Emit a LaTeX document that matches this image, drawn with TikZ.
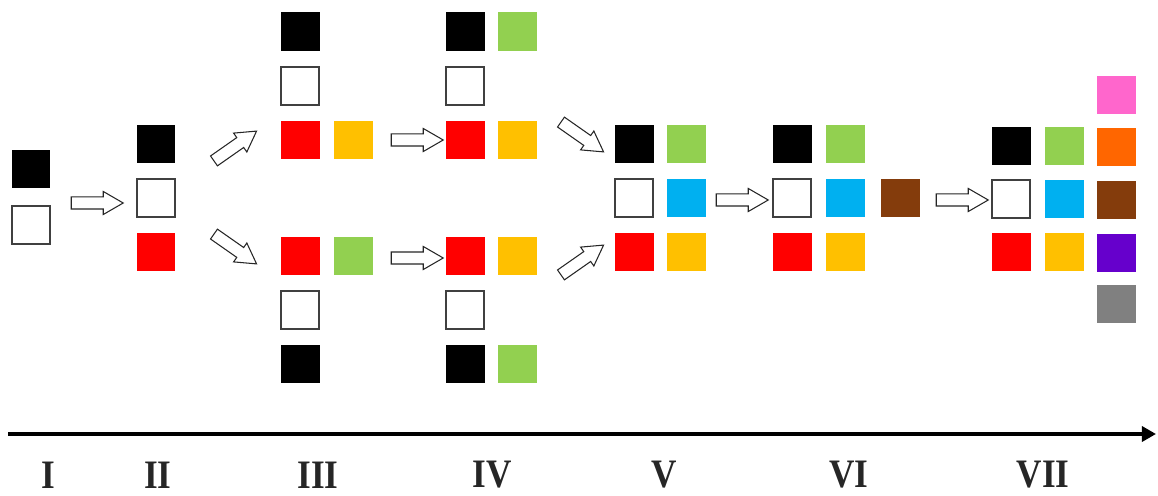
\documentclass[tikz,border=0pt]{standalone}
\usepackage{fontspec}
\setmainfont{Liberation Serif}
\usetikzlibrary{shapes.arrows,arrows.meta}

\definecolor{cred}{HTML}{FF0000}
\definecolor{cyellow}{HTML}{FFC000}
\definecolor{cgreen}{HTML}{92D050}
\definecolor{cblue}{HTML}{00B0F0}
\definecolor{cbrown}{HTML}{843C0C}
\definecolor{cpink}{HTML}{FF66CC}
\definecolor{corange}{HTML}{FF6600}
\definecolor{cpurple}{HTML}{6600CC}
\definecolor{cgray}{HTML}{808080}

\tikzset{
	sq/.style={minimum size=0.78cm, inner sep=0pt, fill=#1},
	emptysq/.style={minimum size=0.76cm, inner sep=0pt, draw=black!75, line width=0.6pt, fill=white},
	blockarrow/.style={single arrow, draw=black!85, fill=white, line width=0.6pt,
		inner sep=0pt, inner ysep=0.11cm, minimum height=1.04cm,
		single arrow head extend=0.11cm, single arrow tip angle=60},
	stage/.style={font=\fontsize{23}{23}\selectfont\bfseries, text=black!85, inner sep=0pt, xscale=0.87}
}

\begin{document}
\begin{tikzpicture}[x=0.02cm,y=-0.02cm]
		\useasboundingbox (0,0) rectangle (1158,496);
		% I
		\node[sq=black] (i1) at (31,169) {};
		\node[emptysq] (i2) at (31,225) {};
		% II
		\node[sq=black] (ii1) at (156,144) {};
		\node[emptysq] (ii2) at (156,198) {};
		\node[sq=cred] (ii3) at (156,252) {};
		% III
		\node[sq=black] (iiia) at (300,32) {};
		\node[emptysq] (iiib) at (300,86) {};
		\node[sq=cred] (iiic) at (300,140) {};
		\node[sq=cyellow] (iiid) at (353,140) {};
		\node[sq=cred] (iiie) at (300,256) {};
		\node[sq=cgreen] (iiif) at (353,256) {};
		\node[emptysq] (iiig) at (300,310) {};
		\node[sq=black] (iiih) at (300,364) {};
		% IV
		\node[sq=black] (iva) at (465,32) {};
		\node[sq=cgreen] (ivb) at (517,32) {};
		\node[emptysq] (ivc) at (465,86) {};
		\node[sq=cred] (ivd) at (465,140) {};
		\node[sq=cyellow] (ive) at (517,140) {};
		\node[sq=cred] (ivf) at (465,256) {};
		\node[sq=cyellow] (ivg) at (517,256) {};
		\node[emptysq] (ivh) at (465,310) {};
		\node[sq=black] (ivi) at (465,364) {};
		\node[sq=cgreen] (ivj) at (517,364) {};
		% V
		\node[sq=black] (va) at (634,144) {};
		\node[sq=cgreen] (vb) at (686,144) {};
		\node[emptysq] (vc) at (634,198) {};
		\node[sq=cblue] (vd) at (686,198) {};
		\node[sq=cred] (ve) at (634,252) {};
		\node[sq=cyellow] (vf) at (686,252) {};
		% VI
		\node[sq=black] (via) at (792,144) {};
		\node[sq=cgreen] (vib) at (845,144) {};
		\node[emptysq] (vic) at (792,198) {};
		\node[sq=cblue] (vid) at (845,198) {};
		\node[sq=cbrown] (vie) at (900,198) {};
		\node[sq=cred] (vif) at (792,252) {};
		\node[sq=cyellow] (vig) at (845,252) {};
		% VII
		\node[sq=black] (viia) at (1011,146) {};
		\node[sq=cgreen] (viib) at (1064,146) {};
		\node[emptysq] (viic) at (1011,199) {};
		\node[sq=cblue] (viid) at (1064,199) {};
		\node[sq=cred] (viie) at (1011,252) {};
		\node[sq=cyellow] (viif) at (1064,252) {};
		\node[sq=cpink] (viig) at (1116,95) {};
		\node[sq=corange] (viih) at (1116,147) {};
		\node[sq=cbrown] (viii) at (1116,200) {};
		\node[sq=cpurple] (viij) at (1116,253) {};
		\node[sq=cgray] (viik) at (1116,304) {};
		% block arrows
		\node[blockarrow] (a1) at (92,203) {};
		\node[blockarrow, rotate=35] (a2) at (231,149) {};
		\node[blockarrow, rotate=-35] (a3) at (231,246) {};
		\node[blockarrow] (a4) at (412,140) {};
		\node[blockarrow] (a5) at (412,258) {};
		\node[blockarrow, rotate=-35] (a6) at (578,134) {};
		\node[blockarrow, rotate=35] (a7) at (578,263) {};
		\node[blockarrow] (a8) at (737,200) {};
		\node[blockarrow] (a9) at (957,200) {};
		% time axis
		\coordinate (t0) at (8,434);
		\coordinate (t1) at (1156,434);
		\draw[line width=2.4pt, -{Triangle[length=8pt,width=8.5pt]}] (t0) -- (t1);
		\node[stage] (s1) at (48,475) {I};
		\node[stage] (s2) at (158,475) {II};
		\node[stage] (s3) at (318,475) {III};
		\node[stage] (s4) at (492,475) {IV};
		\node[stage] (s5) at (664,475) {V};
		\node[stage] (s6) at (849,475) {VI};
		\node[stage] (s7) at (1043,475) {VII};
	\end{tikzpicture}
\end{document}
